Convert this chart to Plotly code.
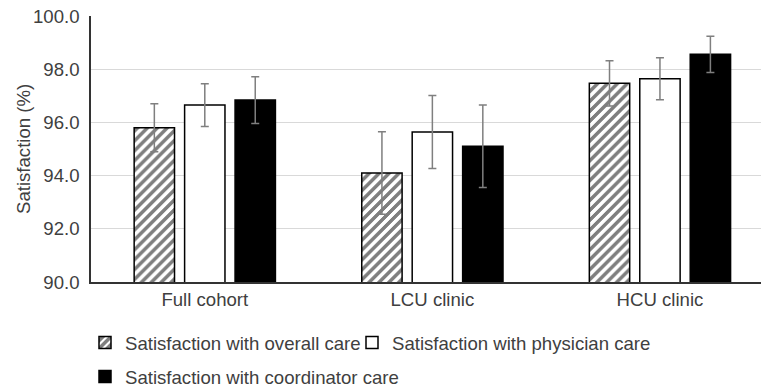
import plotly.graph_objects as go

categories = ["Full cohort", "LCU clinic", "HCU clinic"]
series_names = [
    "Satisfaction with overall care",
    "Satisfaction with physician care",
    "Satisfaction with coordinator care",
]
overall = [95.8, 94.1, 97.47]
physician = [96.65, 95.64, 97.64]
coordinator = [96.84, 95.1, 98.56]
overall_err = [0.9, 1.55, 0.85]
physician_err = [0.8, 1.37, 0.79]
coordinator_err = [0.88, 1.55, 0.68]
y_ticks = [90, 92, 94, 96, 98, 100]
y_title = "Satisfaction (%)"

FONT = "Liberation Sans, Arial, sans-serif"
TXT = "#404040"
FS = 18.6

err_style = dict(type="data", visible=True, color="#7f7f7f", thickness=1.5, width=4)

fig = go.Figure()
fig.add_bar(
    x=categories, y=overall, name=series_names[0], legend="legend",
    marker=dict(color="white", line=dict(color="black", width=1.5),
                pattern=dict(shape="/", fgcolor="black", bgcolor="white", size=7, solidity=0.55)),
    error_y=dict(array=overall_err, **err_style),
)
fig.add_bar(
    x=categories, y=physician, name=series_names[1], legend="legend2",
    marker=dict(color="white", line=dict(color="black", width=1.5)),
    error_y=dict(array=physician_err, **err_style),
)
fig.add_bar(
    x=categories, y=coordinator, name=series_names[2], legend="legend3",
    marker=dict(color="black", line=dict(color="black", width=1.5)),
    error_y=dict(array=coordinator_err, **err_style),
)

leg_common = dict(orientation="h", xref="container", yref="container",
                  xanchor="left", yanchor="middle", bgcolor="rgba(0,0,0,0)",
                  font=dict(family=FONT, size=FS, color=TXT), itemwidth=30)

fig.update_layout(
    width=761, height=387,
    margin=dict(l=91, r=0, t=16, b=105, autoexpand=False),
    paper_bgcolor="white", plot_bgcolor="white",
    barmode="group", bargap=0.335, bargroupgap=0.2,
    font=dict(family=FONT, size=FS, color=TXT),
    showlegend=True,
    legend=dict(x=85 / 761, y=1 - 343 / 387, **leg_common),
    legend2=dict(x=352 / 761, y=1 - 343 / 387, **leg_common),
    legend3=dict(x=85 / 761, y=1 - 377 / 387, **leg_common),
    xaxis=dict(range=[-0.5, 2.444], showline=True, linecolor="#333333", linewidth=1.5,
               ticks="", showgrid=False, automargin=False,
               tickfont=dict(family=FONT, size=FS, color=TXT)),
    yaxis=dict(range=[90, 100], tickvals=y_ticks, tickformat=".1f",
               showline=True, linecolor="#333333", linewidth=1.5,
               showgrid=True, gridcolor="#d9d9d9", gridwidth=1, zeroline=False,
               ticks="", ticklabelstandoff=6, automargin=False,
               tickfont=dict(family=FONT, size=FS, color=TXT)),
    annotations=[dict(text=y_title, textangle=-90, xref="paper", yref="paper",
                      x=(23 - 91) / 670, y=0.5, xanchor="center", yanchor="middle",
                      showarrow=False, font=dict(family=FONT, size=FS, color=TXT))],
)

fig.write_html(
    "out.html",
    config={"displayModeBar": False},
    post_script=(
        "document.body.style.margin='0';document.body.style.overflow='hidden';"
        "document.querySelectorAll('pattern path').forEach(function(p){"
        "p.setAttribute('shape-rendering','crispEdges');});"
    ),
)
